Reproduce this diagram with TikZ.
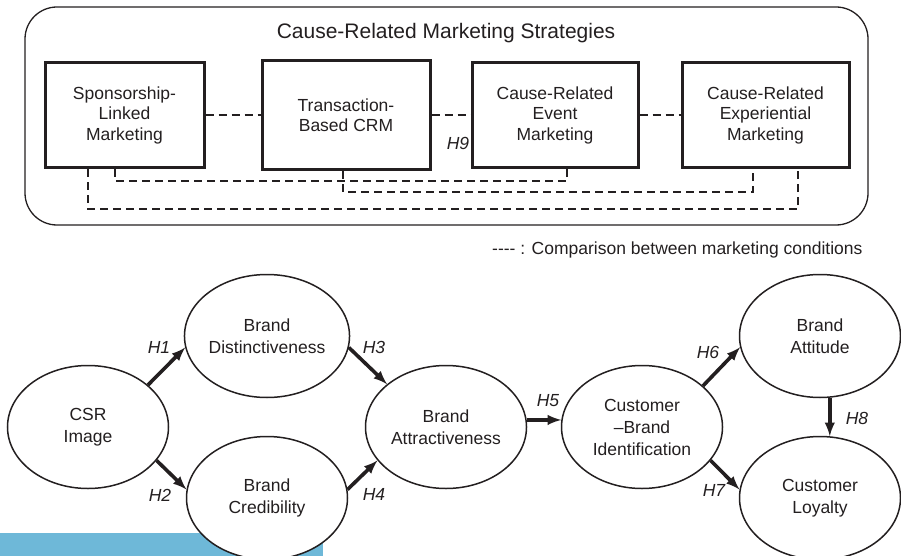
\documentclass[tikz,border=0pt]{standalone}
\usepackage{fontspec}
\setmainfont{Liberation Sans}
\usetikzlibrary{shapes.geometric}
\tikzset{>=latex}
\definecolor{bandblue}{RGB}{110,184,216}
\definecolor{ink}{RGB}{35,31,32}

\begin{document}
\begin{tikzpicture}[x=1pt,y=-1pt,
	every node/.style={font=\fontsize{17.5}{22}\selectfont, align=center, text=ink},
	strat/.style={draw=ink, line width=3pt, inner sep=0pt, minimum height=105pt, font=\fontsize{17.5}{20.5}\selectfont},
	cons/.style={draw=ink, ellipse, line width=1.5pt, fill=white, minimum width=161pt, minimum height=123pt, inner sep=0pt},
	cmp/.style={draw=ink, line width=1.1pt, dash pattern=on 8pt off 5pt},
	hyp/.style={->, draw=ink, line width=3.6pt},
	hlab/.style={font=\fontsize{17.5}{21}\selectfont\itshape}]
	\useasboundingbox (0,0) rectangle (901,556);
	\fill[bandblue] (0,533) rectangle (323,556);

	% strategies
	\draw[ink, line width=1.3pt, rounded corners=32pt] (25,7) rectangle (868,225);
	\node[font=\fontsize{21}{25}\selectfont] (title) at (446,33) {Cause-Related Marketing Strategies};
	\node[strat, minimum width=159pt] (slm) at (124.5,115) {Sponsorship-\\Linked\\Marketing};
	\node[strat, minimum width=168pt, minimum height=109pt] (tcrm) at (346,115) {Transaction-\\Based CRM};
	\node[strat, minimum width=166pt] (ced) at (555,115) {Cause-Related\\Event\\Marketing};
	\node[strat, minimum width=167pt] (cre) at (765.5,115) {Cause-Related\\Experiential\\Marketing};
	\draw[cmp] (slm.east) -- (tcrm.west);
	\draw[cmp] (tcrm.east) -- (ced.west);
	\draw[cmp] (ced.east) -- (cre.west);
	\draw[cmp] ([xshift=-9.5pt]slm.south) -- ++(0,12) -| ([xshift=12pt]ced.south);
	\draw[cmp] ([xshift=-3pt]tcrm.south) -- ++(0,21) -| ([xshift=-12.5pt]cre.south);
	\draw[cmp] ([xshift=-36.5pt]slm.south) -- ++(0,40) -| ([xshift=32.5pt]cre.south);
	\node[hlab] (h9) at (458,143) {H9};
	\node[anchor=east] (legend) at (866,250) {-\kern0pt-\kern0pt-\kern0pt- : Comparison between marketing conditions};

	% model
	\node[cons] (csr) at (88,427) {CSR\\Image};
	\node[cons] (dist) at (267,336) {Brand\\Distinctiveness};
	\node[cons] (cred) at (267,498) {Brand\\Credibility};
	\node[cons] (attr) at (446,427) {Brand\\Attractiveness};
	\node[cons] (cbi) at (642,427) {Customer\\--Brand\\Identification};
	\node[cons] (att) at (820,336) {Brand\\Attitude};
	\node[cons] (loy) at (820,498) {Customer\\Loyalty};

	\draw[hyp] (csr.35) -- (dist.188);
	\draw[hyp] (csr.334) -- (cred.174);
	\draw[hyp] (dist.352) -- (attr.144);
	\draw[hyp] (cred.6) -- (attr.206);
	\draw[hyp] (attr.5) -- (cbi.175);
	\draw[hyp] (cbi.34) -- (att.188);
	\draw[hyp] (cbi.334) -- (loy.174);
	\draw[hyp] (att.279) -- (loy.81);

	\node[hlab] (h1) at (159,347) {H1};
	\node[hlab] (h2) at (160,495) {H2};
	\node[hlab] (h3) at (374,347) {H3};
	\node[hlab] (h4) at (374,494) {H4};
	\node[hlab] (h5) at (548,401) {H5};
	\node[hlab] (h6) at (708,352) {H6};
	\node[hlab] (h7) at (714,490) {H7};
	\node[hlab] (h8) at (857,418) {H8};
\end{tikzpicture}
\end{document}
